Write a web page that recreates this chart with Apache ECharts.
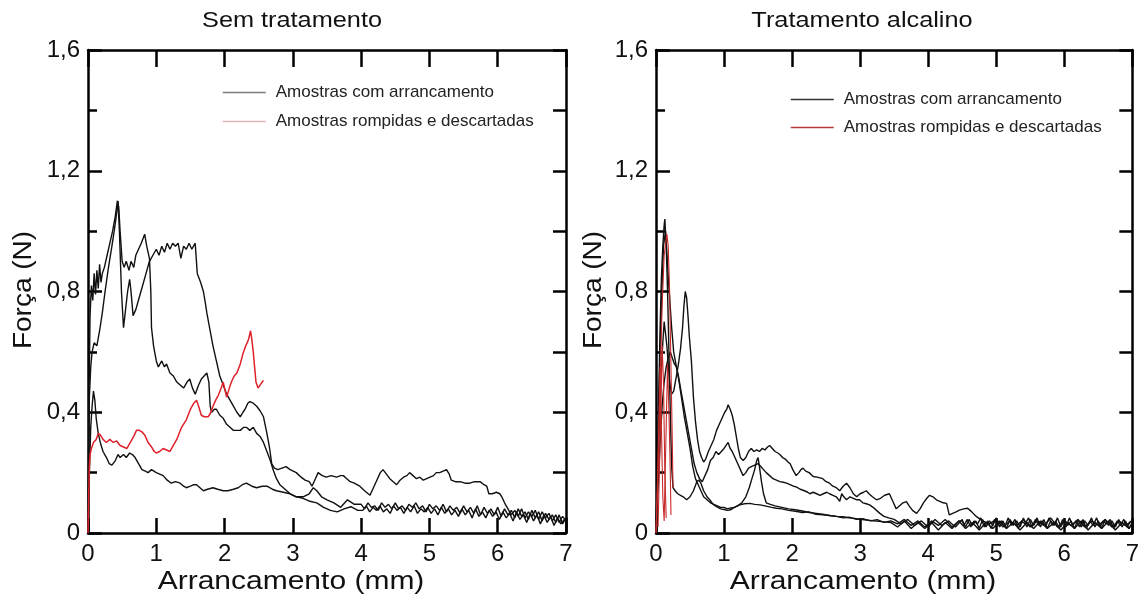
<!DOCTYPE html>
<html><head><meta charset="utf-8">
<script src="https://cdn.jsdelivr.net/npm/echarts@6/dist/echarts.min.js"></script>
<style>html,body{margin:0;padding:0;background:#fff}#c{width:1142px;height:601px}</style>
</head><body><div id="c"></div>
<script>
const panelTitles = ['Sem tratamento', 'Tratamento alcalino'];
const xAxisName = 'Arrancamento (mm)';
const yAxisName = 'Força (N)';
const legendNames = ['Amostras com arrancamento', 'Amostras rompidas e descartadas'];
const yTickLabels = ['0', '0,4', '0,8', '1,2', '1,6'];

// ---- Sem tratamento ----
const semP1 = [[0,0],[0.015,0.45],[0.03,0.72],[0.05,0.82],[0.07,0.77],[0.09,0.86],[0.11,0.79],[0.13,0.87],[0.15,0.81],[0.17,0.89],[0.19,0.83],[0.21,0.86],[0.24,0.88],[0.28,0.92],[0.32,0.96],[0.36,1.0],[0.4,1.05],[0.43,1.1],[0.45,1.08],[0.47,1.0],[0.5,0.9],[0.53,0.88],[0.56,0.9],[0.6,0.87],[0.63,0.9],[0.67,0.88],[0.7,0.92],[0.74,0.94],[0.78,0.96],[0.83,0.99],[0.86,0.95],[0.9,0.91],[0.92,0.8],[0.93,0.68],[0.96,0.62],[1.0,0.57],[1.03,0.55],[1.08,0.57],[1.12,0.55],[1.15,0.56],[1.2,0.53],[1.25,0.52],[1.3,0.5],[1.35,0.49],[1.4,0.48],[1.45,0.5],[1.49,0.51],[1.53,0.48],[1.57,0.46],[1.62,0.49],[1.66,0.51],[1.7,0.52],[1.74,0.53],[1.77,0.5],[1.79,0.42],[1.81,0.4],[1.85,0.41],[1.88,0.41],[1.93,0.39],[1.98,0.38],[2.03,0.36],[2.08,0.35],[2.13,0.34],[2.18,0.34],[2.23,0.34],[2.28,0.35],[2.32,0.35],[2.37,0.34],[2.42,0.35],[2.47,0.33],[2.52,0.32],[2.57,0.3],[2.62,0.27],[2.67,0.24],[2.71,0.21],[2.76,0.18],[2.81,0.16],[2.86,0.15],[2.96,0.13],[3.05,0.12],[3.15,0.12],[3.24,0.13],[3.3,0.15],[3.35,0.14],[3.42,0.12],[3.5,0.11],[3.6,0.1],[3.7,0.085],[3.8,0.11],[3.9,0.095],[4.0,0.095],[4.05,0.08],[4.1,0.1],[4.15,0.085],[4.2,0.09],[4.25,0.075],[4.3,0.1],[4.35,0.085],[4.4,0.095],[4.45,0.08],[4.5,0.1],[4.55,0.08],[4.6,0.09],[4.65,0.075],[4.7,0.095],[4.75,0.085],[4.8,0.1],[4.85,0.08],[4.9,0.09],[4.95,0.07],[5.0,0.095],[5.05,0.08],[5.1,0.09],[5.15,0.075],[5.2,0.095],[5.25,0.07],[5.3,0.09],[5.35,0.075],[5.4,0.085],[5.45,0.065],[5.5,0.09],[5.55,0.07],[5.6,0.085],[5.65,0.065],[5.7,0.09],[5.75,0.06],[5.8,0.085],[5.85,0.065],[5.9,0.08],[5.95,0.06],[6.0,0.085],[6.05,0.055],[6.1,0.08],[6.15,0.06],[6.2,0.075],[6.25,0.05],[6.3,0.08],[6.35,0.055],[6.4,0.07],[6.45,0.045],[6.5,0.075],[6.55,0.05],[6.6,0.07],[6.65,0.04],[6.7,0.065],[6.75,0.045],[6.8,0.06],[6.85,0.035],[6.9,0.06],[6.95,0.03],[7.0,0.05]];
const semP2 = [[0,0],[0.01,0.25],[0.02,0.45],[0.04,0.55],[0.06,0.6],[0.09,0.63],[0.13,0.62],[0.17,0.67],[0.21,0.73],[0.25,0.8],[0.3,0.88],[0.35,0.95],[0.39,1.01],[0.42,1.06],[0.44,1.1],[0.46,1.0],[0.49,0.8],[0.52,0.68],[0.55,0.74],[0.58,0.8],[0.61,0.84],[0.63,0.8],[0.66,0.72],[0.7,0.74],[0.75,0.78],[0.8,0.82],[0.85,0.86],[0.9,0.9],[0.95,0.92],[1.0,0.94],[1.04,0.92],[1.08,0.95],[1.12,0.93],[1.16,0.96],[1.2,0.94],[1.24,0.96],[1.28,0.95],[1.32,0.96],[1.36,0.91],[1.4,0.95],[1.44,0.94],[1.48,0.96],[1.52,0.94],[1.57,0.96],[1.6,0.86],[1.65,0.83],[1.69,0.8],[1.72,0.76],[1.74,0.73],[1.78,0.68],[1.83,0.62],[1.88,0.57],[1.93,0.52],[1.98,0.49],[2.03,0.46],[2.08,0.44],[2.13,0.42],[2.18,0.4],[2.23,0.385],[2.27,0.4],[2.3,0.41],[2.34,0.43],[2.37,0.435],[2.42,0.43],[2.47,0.42],[2.52,0.405],[2.57,0.385],[2.62,0.33],[2.66,0.28],[2.69,0.23],[2.73,0.215],[2.78,0.21],[2.84,0.215],[2.9,0.22],[2.96,0.21],[3.05,0.2],[3.12,0.185],[3.18,0.175],[3.24,0.17],[3.28,0.155],[3.32,0.175],[3.37,0.2],[3.43,0.19],[3.49,0.185],[3.56,0.19],[3.64,0.185],[3.7,0.19],[3.74,0.19],[3.79,0.18],[3.84,0.17],[3.9,0.165],[3.98,0.155],[4.05,0.14],[4.13,0.125],[4.18,0.15],[4.23,0.175],[4.28,0.2],[4.32,0.21],[4.37,0.195],[4.42,0.18],[4.47,0.17],[4.52,0.16],[4.57,0.175],[4.62,0.185],[4.67,0.19],[4.71,0.2],[4.76,0.19],[4.81,0.18],[4.86,0.185],[4.91,0.175],[4.96,0.18],[5.01,0.185],[5.06,0.19],[5.1,0.2],[5.15,0.2],[5.2,0.205],[5.25,0.21],[5.29,0.195],[5.32,0.175],[5.38,0.17],[5.45,0.17],[5.52,0.165],[5.59,0.165],[5.66,0.17],[5.74,0.17],[5.8,0.16],[5.84,0.155],[5.87,0.13],[5.92,0.13],[5.98,0.135],[6.03,0.13],[6.06,0.12],[6.1,0.1],[6.15,0.08],[6.2,0.06],[6.25,0.075],[6.3,0.055],[6.35,0.08],[6.4,0.05],[6.45,0.07],[6.5,0.055],[6.55,0.075],[6.6,0.045],[6.65,0.07],[6.7,0.05],[6.75,0.065],[6.8,0.04],[6.85,0.06],[6.9,0.035],[6.95,0.055],[7.0,0.04]];
const semP3 = [[0,0],[0.02,0.2],[0.04,0.35],[0.06,0.42],[0.08,0.47],[0.1,0.44],[0.12,0.38],[0.15,0.33],[0.18,0.3],[0.22,0.27],[0.27,0.25],[0.31,0.23],[0.35,0.225],[0.4,0.24],[0.44,0.26],[0.47,0.25],[0.52,0.26],[0.56,0.25],[0.61,0.265],[0.65,0.26],[0.69,0.25],[0.74,0.23],[0.79,0.21],[0.84,0.205],[0.88,0.2],[0.93,0.21],[1.0,0.2],[1.05,0.195],[1.1,0.19],[1.16,0.175],[1.22,0.165],[1.28,0.17],[1.35,0.165],[1.4,0.155],[1.44,0.15],[1.5,0.155],[1.55,0.16],[1.59,0.16],[1.64,0.15],[1.69,0.14],[1.75,0.145],[1.83,0.15],[1.9,0.145],[1.98,0.14],[2.05,0.14],[2.13,0.145],[2.2,0.15],[2.26,0.16],[2.32,0.165],[2.4,0.155],[2.47,0.15],[2.55,0.155],[2.62,0.155],[2.7,0.145],[2.76,0.14],[2.86,0.135],[2.96,0.13],[3.05,0.12],[3.15,0.115],[3.25,0.105],[3.35,0.1],[3.45,0.085],[3.55,0.075],[3.65,0.07],[3.75,0.08],[3.85,0.087],[3.95,0.075],[4.025,0.075],[4.075,0.09],[4.125,0.07],[4.175,0.085],[4.225,0.075],[4.275,0.09],[4.325,0.07],[4.375,0.08],[4.425,0.065],[4.475,0.09],[4.525,0.075],[4.575,0.085],[4.625,0.065],[4.675,0.085],[4.725,0.07],[4.775,0.09],[4.825,0.065],[4.875,0.08],[4.925,0.07],[4.975,0.085],[5.025,0.065],[5.075,0.08],[5.125,0.06],[5.175,0.085],[5.225,0.065],[5.275,0.08],[5.325,0.06],[5.375,0.075],[5.425,0.055],[5.475,0.08],[5.525,0.06],[5.575,0.075],[5.625,0.05],[5.675,0.08],[5.725,0.055],[5.775,0.07],[5.825,0.05],[5.875,0.075],[5.925,0.055],[5.975,0.07],[6.025,0.045],[6.075,0.07],[6.125,0.05],[6.175,0.065],[6.225,0.04],[6.275,0.07],[6.325,0.045],[6.375,0.06],[6.425,0.035],[6.475,0.065],[6.525,0.04],[6.575,0.06],[6.625,0.03],[6.675,0.06],[6.725,0.035],[6.775,0.055],[6.825,0.025],[6.875,0.05],[6.925,0.03],[6.975,0.045]];
const semRed = [[0,0],[0.01,0.12],[0.02,0.22],[0.03,0.26],[0.05,0.28],[0.08,0.3],[0.12,0.31],[0.15,0.33],[0.18,0.325],[0.22,0.31],[0.27,0.3],[0.32,0.31],[0.37,0.3],[0.42,0.305],[0.47,0.29],[0.52,0.285],[0.57,0.28],[0.62,0.3],[0.67,0.32],[0.71,0.34],[0.75,0.34],[0.79,0.335],[0.83,0.325],[0.88,0.3],[0.93,0.285],[0.97,0.27],[1.0,0.265],[1.05,0.27],[1.1,0.28],[1.15,0.275],[1.2,0.27],[1.25,0.29],[1.3,0.31],[1.37,0.35],[1.44,0.375],[1.5,0.41],[1.55,0.43],[1.59,0.44],[1.62,0.42],[1.66,0.39],[1.7,0.385],[1.76,0.385],[1.8,0.4],[1.83,0.42],[1.87,0.44],[1.91,0.457],[1.95,0.48],[1.98,0.5],[2.01,0.47],[2.03,0.45],[2.07,0.48],[2.1,0.5],[2.14,0.52],[2.18,0.53],[2.23,0.56],[2.27,0.595],[2.31,0.62],[2.35,0.64],[2.38,0.67],[2.4,0.64],[2.42,0.6],[2.44,0.55],[2.46,0.5],[2.49,0.48],[2.52,0.49],[2.55,0.5],[2.57,0.505]];

// ---- Tratamento alcalino ----
const alcB1 = [[0,0],[0.02,0.2],[0.04,0.45],[0.06,0.68],[0.08,0.85],[0.1,0.95],[0.12,1.02],[0.13,1.04],[0.15,0.95],[0.17,0.8],[0.19,0.6],[0.21,0.4],[0.23,0.22],[0.25,0.15],[0.28,0.14],[0.32,0.13],[0.36,0.125],[0.4,0.12],[0.45,0.11],[0.5,0.12],[0.55,0.14],[0.6,0.17],[0.63,0.175],[0.66,0.165],[0.7,0.14],[0.75,0.12],[0.79,0.11],[0.84,0.095],[0.89,0.087],[0.95,0.08],[1.0,0.078],[1.05,0.075],[1.1,0.077],[1.15,0.085],[1.23,0.093],[1.3,0.097],[1.38,0.098],[1.45,0.095],[1.53,0.093],[1.6,0.09],[1.7,0.085],[1.77,0.082],[1.85,0.08],[1.95,0.075],[2.05,0.072],[2.15,0.068],[2.25,0.07],[2.35,0.062],[2.45,0.06],[2.55,0.058],[2.65,0.055],[2.75,0.05],[2.85,0.052],[2.95,0.045],[3.05,0.047],[3.15,0.04],[3.25,0.044],[3.35,0.035],[3.45,0.04],[3.55,0.03],[3.65,0.045],[3.75,0.025],[3.85,0.04],[3.95,0.02],[4.05,0.04],[4.15,0.025],[4.25,0.045],[4.35,0.02],[4.45,0.04],[4.5,0.04],[4.55,0.02],[4.6,0.045],[4.65,0.025],[4.7,0.04],[4.75,0.015],[4.8,0.045],[4.85,0.02],[4.9,0.04],[4.95,0.025],[5.0,0.05],[5.05,0.02],[5.1,0.04],[5.15,0.015],[5.2,0.045],[5.25,0.025],[5.3,0.04],[5.35,0.02],[5.4,0.05],[5.45,0.02],[5.5,0.045],[5.55,0.025],[5.6,0.05],[5.65,0.02],[5.7,0.045],[5.75,0.015],[5.8,0.04],[5.85,0.025],[5.9,0.05],[5.95,0.02],[6.0,0.045],[6.05,0.025],[6.1,0.04],[6.15,0.015],[6.2,0.045],[6.25,0.02],[6.3,0.04],[6.35,0.025],[6.4,0.05],[6.45,0.02],[6.5,0.04],[6.55,0.015],[6.6,0.045],[6.65,0.025],[6.7,0.04],[6.75,0.02],[6.8,0.045],[6.85,0.02],[6.9,0.04],[6.95,0.015],[7.0,0.035]];
const alcB2 = [[0,0],[0.02,0.15],[0.04,0.3],[0.06,0.43],[0.08,0.55],[0.1,0.63],[0.12,0.7],[0.14,0.66],[0.16,0.62],[0.18,0.56],[0.2,0.5],[0.23,0.46],[0.26,0.47],[0.3,0.52],[0.33,0.56],[0.36,0.61],[0.39,0.68],[0.41,0.75],[0.43,0.8],[0.45,0.78],[0.47,0.72],[0.49,0.65],[0.52,0.57],[0.55,0.45],[0.58,0.37],[0.61,0.31],[0.64,0.27],[0.67,0.25],[0.7,0.235],[0.73,0.245],[0.77,0.27],[0.81,0.29],[0.85,0.31],[0.89,0.34],[0.93,0.36],[0.97,0.38],[1.01,0.4],[1.04,0.41],[1.06,0.425],[1.09,0.41],[1.12,0.39],[1.15,0.36],[1.18,0.32],[1.21,0.28],[1.24,0.25],[1.28,0.24],[1.32,0.25],[1.36,0.27],[1.4,0.28],[1.44,0.27],[1.48,0.275],[1.52,0.27],[1.56,0.28],[1.6,0.275],[1.64,0.285],[1.67,0.29],[1.71,0.28],[1.75,0.27],[1.79,0.265],[1.82,0.26],[1.86,0.25],[1.9,0.245],[1.94,0.235],[1.97,0.23],[2.01,0.21],[2.06,0.19],[2.1,0.2],[2.13,0.21],[2.16,0.215],[2.2,0.205],[2.25,0.2],[2.31,0.187],[2.37,0.185],[2.45,0.18],[2.5,0.17],[2.55,0.165],[2.6,0.155],[2.65,0.15],[2.7,0.14],[2.75,0.155],[2.8,0.165],[2.85,0.15],[2.9,0.13],[2.95,0.12],[3.0,0.13],[3.05,0.135],[3.09,0.14],[3.13,0.13],[3.18,0.12],[3.24,0.11],[3.3,0.115],[3.36,0.125],[3.43,0.13],[3.48,0.105],[3.53,0.08],[3.58,0.09],[3.63,0.1],[3.68,0.104],[3.72,0.09],[3.77,0.075],[3.83,0.065],[3.88,0.08],[3.93,0.1],[3.98,0.115],[4.02,0.125],[4.07,0.12],[4.12,0.11],[4.17,0.105],[4.22,0.1],[4.27,0.098],[4.31,0.06],[4.36,0.065],[4.41,0.07],[4.46,0.076],[4.52,0.08],[4.58,0.082],[4.64,0.07],[4.71,0.054],[4.8,0.04],[4.9,0.03],[5.0,0.045],[5.1,0.02],[5.2,0.04],[5.3,0.025],[5.4,0.045],[5.5,0.02],[5.6,0.04],[5.7,0.025],[5.8,0.05],[5.9,0.02],[6.0,0.04],[6.1,0.025],[6.2,0.045],[6.3,0.02],[6.4,0.04],[6.5,0.025],[6.6,0.045],[6.7,0.02],[6.8,0.04],[6.9,0.025],[7.0,0.04]];
const alcB3 = [[0,0],[0.03,0.15],[0.06,0.3],[0.09,0.42],[0.12,0.5],[0.15,0.55],[0.18,0.58],[0.21,0.6],[0.24,0.58],[0.27,0.56],[0.3,0.55],[0.33,0.52],[0.36,0.48],[0.4,0.43],[0.44,0.38],[0.48,0.33],[0.52,0.28],[0.56,0.23],[0.6,0.2],[0.64,0.18],[0.68,0.17],[0.72,0.19],[0.76,0.21],[0.8,0.24],[0.84,0.25],[0.88,0.27],[0.92,0.26],[0.96,0.27],[1.0,0.28],[1.03,0.29],[1.06,0.3],[1.09,0.28],[1.12,0.27],[1.16,0.25],[1.2,0.23],[1.24,0.21],[1.28,0.19],[1.32,0.2],[1.36,0.215],[1.4,0.22],[1.45,0.225],[1.5,0.23],[1.54,0.22],[1.58,0.21],[1.62,0.2],[1.67,0.19],[1.72,0.18],[1.77,0.175],[1.82,0.17],[1.87,0.168],[1.92,0.165],[1.97,0.16],[2.02,0.155],[2.06,0.153],[2.12,0.145],[2.18,0.14],[2.23,0.135],[2.26,0.13],[2.31,0.135],[2.36,0.13],[2.41,0.125],[2.46,0.13],[2.51,0.135],[2.55,0.13],[2.6,0.125],[2.65,0.12],[2.7,0.105],[2.73,0.13],[2.76,0.12],[2.8,0.11],[2.85,0.12],[2.9,0.115],[2.95,0.11],[2.99,0.11],[3.04,0.1],[3.09,0.097],[3.14,0.093],[3.19,0.085],[3.24,0.075],[3.29,0.065],[3.35,0.055],[3.42,0.05],[3.5,0.045],[3.6,0.03],[3.7,0.045],[3.8,0.025],[3.9,0.04],[4.0,0.02],[4.1,0.045],[4.2,0.025],[4.3,0.04],[4.4,0.02],[4.5,0.045],[4.525,0.025],[4.575,0.045],[4.625,0.02],[4.675,0.04],[4.725,0.03],[4.775,0.05],[4.825,0.02],[4.875,0.04],[4.925,0.015],[4.975,0.045],[5.025,0.025],[5.075,0.04],[5.125,0.02],[5.175,0.05],[5.225,0.025],[5.275,0.045],[5.325,0.015],[5.375,0.04],[5.425,0.03],[5.475,0.05],[5.525,0.02],[5.575,0.045],[5.625,0.025],[5.675,0.04],[5.725,0.02],[5.775,0.05],[5.825,0.025],[5.875,0.04],[5.925,0.015],[5.975,0.045],[6.025,0.02],[6.075,0.05],[6.125,0.025],[6.175,0.04],[6.225,0.02],[6.275,0.045],[6.325,0.015],[6.375,0.04],[6.425,0.025],[6.475,0.05],[6.525,0.02],[6.575,0.04],[6.625,0.03],[6.675,0.045],[6.725,0.015],[6.775,0.04],[6.825,0.025],[6.875,0.045],[6.925,0.02],[6.975,0.04]];
const alcB4 = [[0,0],[0.03,0.3],[0.06,0.6],[0.09,0.82],[0.11,0.95],[0.14,1.0],[0.16,0.93],[0.18,0.85],[0.2,0.78],[0.23,0.68],[0.26,0.6],[0.3,0.55],[0.34,0.5],[0.38,0.44],[0.42,0.38],[0.46,0.33],[0.5,0.28],[0.54,0.22],[0.58,0.18],[0.62,0.16],[0.66,0.14],[0.7,0.12],[0.75,0.11],[0.8,0.1],[0.85,0.095],[0.9,0.09],[0.95,0.085],[1.0,0.085],[1.05,0.08],[1.1,0.083],[1.15,0.085],[1.2,0.09],[1.26,0.1],[1.32,0.12],[1.37,0.15],[1.41,0.18],[1.45,0.21],[1.48,0.24],[1.5,0.25],[1.52,0.22],[1.55,0.17],[1.58,0.13],[1.62,0.1],[1.68,0.095],[1.75,0.09],[1.85,0.085],[1.95,0.08],[2.05,0.077],[2.15,0.073],[2.25,0.068],[2.36,0.065],[2.45,0.062],[2.55,0.058],[2.65,0.055],[2.75,0.054],[2.85,0.05],[2.95,0.047],[3.09,0.043],[3.2,0.04],[3.35,0.037],[3.45,0.035],[3.55,0.02],[3.65,0.04],[3.75,0.015],[3.85,0.035],[3.95,0.015],[4.05,0.035],[4.15,0.01],[4.25,0.035],[4.35,0.015],[4.45,0.04],[4.55,0.015],[4.65,0.035],[4.75,0.01],[4.85,0.035],[4.95,0.015],[5.05,0.04],[5.15,0.015],[5.25,0.035],[5.35,0.01],[5.45,0.035],[5.55,0.015],[5.65,0.04],[5.75,0.015],[5.85,0.035],[5.95,0.01],[6.05,0.035],[6.15,0.015],[6.25,0.04],[6.35,0.01],[6.45,0.035],[6.55,0.015],[6.65,0.04],[6.75,0.01],[6.85,0.035],[6.95,0.015],[7.0,0.03]];
const alcRed1 = [[0,0],[0.03,0.2],[0.06,0.5],[0.09,0.75],[0.12,0.92],[0.16,0.99],[0.18,0.95],[0.2,0.8],[0.22,0.55],[0.24,0.3],[0.25,0.15]];
const alcRed2 = [[0,0],[0.02,0.15],[0.04,0.35],[0.06,0.55],[0.08,0.35],[0.1,0.12],[0.12,0.04],[0.14,0.25],[0.17,0.56],[0.19,0.4],[0.21,0.2],[0.22,0.06]];
const alcRed3 = [[0.03,0.02],[0.06,0.3],[0.09,0.62],[0.11,0.5],[0.13,0.2],[0.15,0.05]];

const FONT = 'Liberation Sans, Arial, sans-serif';
const grids = [
  {left: 88, top: 50, width: 478, height: 483},
  {left: 656, top: 50, width: 477, height: 483}
];
const lineW = 2.5;
const xAxes = [], yAxes = [];
[0, 1].forEach(g => {
  xAxes.push({
    type: 'value', gridIndex: g, min: 0, max: 7, interval: 1, position: 'bottom',
    axisLine: {show: true, onZero: false, lineStyle: {color: '#000', width: lineW}},
    axisTick: {show: true, inside: true, length: 15, lineStyle: {color: '#000', width: 2.5}},
    axisLabel: {show: true, margin: 9, fontSize: 24, fontFamily: FONT, color: '#111'},
    splitLine: {show: false}
  });
  xAxes.push({
    type: 'value', gridIndex: g, min: 0, max: 7, interval: 1, position: 'top',
    axisLine: {show: true, onZero: false, lineStyle: {color: '#000', width: lineW}},
    axisTick: {show: true, inside: true, length: 17, lineStyle: {color: '#000', width: 2.5}},
    axisLabel: {show: false}, splitLine: {show: false}
  });
  yAxes.push({
    type: 'value', gridIndex: g, min: 0, max: 1.6, interval: 0.4, position: 'left',
    axisLine: {show: true, onZero: false, lineStyle: {color: '#000', width: lineW}},
    axisTick: {show: true, inside: true, length: 14, lineStyle: {color: '#000', width: 2.5}},
    minorTick: {show: true, splitNumber: 2, length: 9, lineStyle: {color: '#000', width: 2.5}},
    axisLabel: {show: true, margin: 8, fontSize: 24, fontFamily: FONT, color: '#111',
      formatter: v => yTickLabels[Math.round(v / 0.4)]},
    splitLine: {show: false}, minorSplitLine: {show: false}
  });
  yAxes.push({
    type: 'value', gridIndex: g, min: 0, max: 1.6, interval: 0.2, position: 'right',
    axisLine: {show: true, onZero: false, lineStyle: {color: '#000', width: lineW}},
    axisTick: {show: true, inside: true, length: 13, lineStyle: {color: '#000', width: 2.5}},
    axisLabel: {show: false}, splitLine: {show: false}
  });
});

function mk(name, data, g, color, width) {
  return {
    type: 'line', name: name, data: data, xAxisIndex: g * 2, yAxisIndex: g * 2,
    symbol: 'none', showSymbol: false, silent: true, animation: false,
    lineStyle: {color: color, width: width}, itemStyle: {color: color}
  };
}
const BLACK = '#111';
const series = [
  mk(legendNames[0], semP1, 0, BLACK, 1.4),
  mk(legendNames[0], semP2, 0, BLACK, 1.4),
  mk(legendNames[0], semP3, 0, BLACK, 1.4),
  mk(legendNames[1], semRed, 0, '#e0202a', 1.5),
  mk(legendNames[0], alcB1, 1, BLACK, 1.4),
  mk(legendNames[0], alcB2, 1, BLACK, 1.4),
  mk(legendNames[0], alcB3, 1, BLACK, 1.4),
  mk(legendNames[0], alcB4, 1, BLACK, 1.4),
  mk(legendNames[1], alcRed1, 1, '#c82a2a', 1.1),
  mk(legendNames[1], alcRed2, 1, '#c82a2a', 1.1),
  mk(legendNames[1], alcRed3, 1, '#c82a2a', 1.1)
];

function legendAt(left, top, gap, c0, c1) {
  return {
    orient: 'vertical', left: left, top: top, padding: 0, itemWidth: 43, itemHeight: 15, itemGap: gap,
    selectedMode: false,
    textStyle: {fontSize: 17, fontFamily: FONT, color: '#222', padding: [0, 0, 0, 5]},
    data: [
      {name: legendNames[0], lineStyle: {color: c0, width: 1.5}, itemStyle: {color: 'rgba(0,0,0,0)', borderWidth: 0, opacity: 0}},
      {name: legendNames[1], lineStyle: {color: c1, width: 1.5}, itemStyle: {color: 'rgba(0,0,0,0)', borderWidth: 0, opacity: 0}}
    ]
  };
}

function txt(s, x, y, size, sx, rot) {
  return {
    type: 'text', x: x, y: y, scaleX: sx, rotation: rot || 0, silent: true,
    style: {text: s, font: size + 'px ' + FONT, fill: '#111',
      textAlign: 'center', textVerticalAlign: 'middle', align: 'center', verticalAlign: 'middle'}
  };
}

const chart = echarts.init(document.getElementById('c'), null, {renderer: 'canvas'});
chart.setOption({
  animation: false,
  backgroundColor: '#fff',
  grid: grids,
  xAxis: xAxes,
  yAxis: yAxes,
  legend: [
    legendAt(222, 84, 12, '#7a7a7a', '#e2b4b8'),
    legendAt(790, 91, 11, '#333', '#b53a3a')
  ],
  series: series,
  graphic: [
    txt(panelTitles[0], 292, 21, 22, 1.15),
    txt(panelTitles[1], 862, 21, 22, 1.15),
    txt(xAxisName, 291, 582, 25, 1.2),
    txt(xAxisName, 863, 582, 25, 1.2),
    txt(yAxisName, 24, 290, 25, 1.12, Math.PI / 2),
    txt(yAxisName, 594, 290, 25, 1.12, Math.PI / 2)
  ]
});
</script>
</body></html>
